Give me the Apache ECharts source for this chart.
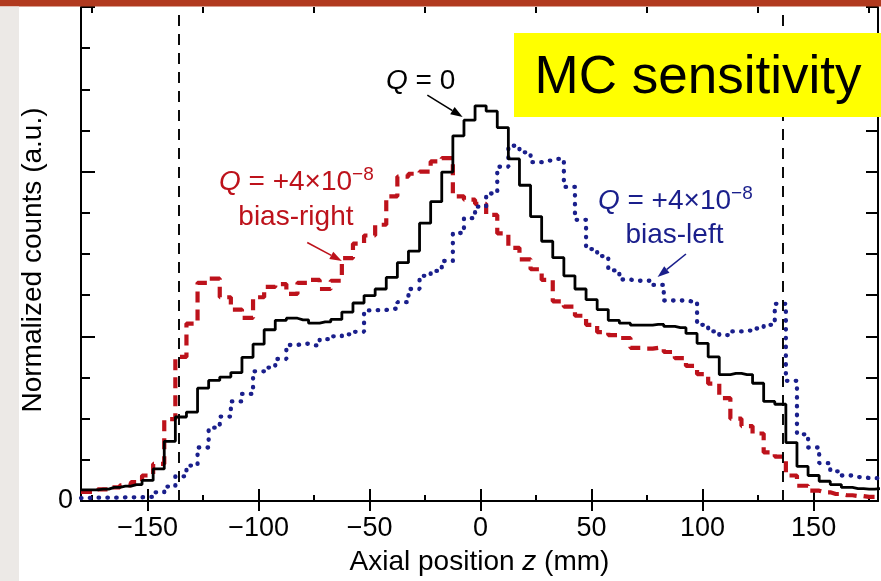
<!DOCTYPE html>
<html>
<head>
<meta charset="utf-8">
<script src="https://cdn.jsdelivr.net/npm/echarts@6/dist/echarts.min.js"></script>
<style>
  html, body { margin: 0; padding: 0; background: #ffffff; }
  #chart { width: 881px; height: 581px; }
</style>
</head>
<body>
<div id="chart"></div>
<script>
// Axial distribution of detected events, 5 mm bins (bin centres in mm)
const binCentres = [
  -180, -175, -170, -165, -160, -155, -150, -145, -140, -135,
  -130, -125, -120, -115, -110, -105, -100,  -95,  -90,  -85,
   -80,  -75,  -70,  -65,  -60,  -55,  -50,  -45,  -40,  -35,
   -30,  -25,  -20,  -15,  -10,   -5,    0,    5,   10,   15,
    20,   25,   30,   35,   40,   45,   50,   55,   60,   65,
    70,   75,   80,   85,   90,   95,  100,  105,  110,  115,
   120,  125,  130,  135,  140,  145,  150,  155,  160,  165,
   170,  175,  180
];

// Q = 0
const countsQ0 = [
  0.27, 0.27, 0.29, 0.33, 0.36, 0.40, 0.50, 0.78, 1.45, 2.04,
  2.16, 2.74, 2.93, 3.01, 3.12, 3.49, 3.81, 4.16, 4.39, 4.44,
  4.40, 4.32, 4.35, 4.41, 4.59, 4.81, 4.99, 5.15, 5.43, 5.79,
  6.07, 6.75, 7.27, 7.99, 8.87, 9.25, 9.60, 9.47, 9.07, 8.31,
  7.67, 6.91, 6.31, 5.91, 5.47, 5.15, 4.89, 4.65, 4.39, 4.32,
  4.27, 4.27, 4.29, 4.24, 4.21, 4.07, 3.83, 3.50, 3.07, 3.10,
  3.07, 2.86, 2.42, 2.35, 1.42, 0.84, 0.62, 0.48, 0.40, 0.33,
  0.30, 0.29, 0.30
];

// Q = +4e-8, bias-right
const countsBiasRight = [
  0.22, 0.22, 0.28, 0.33, 0.38, 0.46, 0.62, 0.90, 1.99, 3.50,
  4.31, 5.30, 5.40, 4.95, 4.65, 4.45, 4.95, 5.20, 5.27, 5.03,
  5.30, 5.37, 5.15, 5.35, 5.90, 6.25, 6.45, 6.71, 7.40, 7.88,
  7.95, 8.00, 8.25, 8.33, 7.40, 7.32, 7.22, 6.95, 6.50, 6.15,
  5.87, 5.63, 5.37, 4.85, 4.72, 4.50, 4.28, 4.10, 4.03, 3.96,
  3.72, 3.70, 3.72, 3.62, 3.47, 3.28, 3.08, 2.85, 2.50, 2.00,
  1.82, 1.64, 1.18, 1.08, 0.62, 0.37, 0.25, 0.21, 0.17, 0.14,
  0.12, 0.10, 0.10
];

// Q = +4e-8, bias-left
const countsBiasLeft = [
  0.07, 0.08, 0.08, 0.08, 0.09, 0.09, 0.10, 0.21, 0.35, 0.60,
  0.86, 1.30, 1.78, 2.05, 2.42, 2.60, 3.15, 3.24, 3.45, 3.79,
  3.82, 3.78, 3.93, 4.00, 4.05, 4.11, 4.63, 4.64, 4.67, 4.83,
  5.15, 5.47, 5.59, 5.83, 6.51, 6.87, 7.15, 7.47, 8.12, 8.63,
  8.47, 8.23, 8.27, 8.31, 7.63, 6.83, 6.12, 5.95, 5.60, 5.38,
  5.35, 5.35, 5.25, 4.87, 4.87, 4.85, 4.28, 4.12, 4.03, 4.12,
  4.14, 4.19, 4.28, 4.79, 2.92, 1.62, 1.30, 0.92, 0.72, 0.62,
  0.58, 0.56, 0.55
];

// Electrode edges (mm), drawn as dashed verticals
const electrodeEdges = [-136, 136];

// Axis ticks
const xMajorTicks = [-150, -100, -50, 0, 50, 100, 150];
const xMinorTicks = [-175, -125, -75, -25, 25, 75, 125, 175];
const yLabelTicks = [0];

const FONT = '"Liberation Sans", Arial, Helvetica, sans-serif';
const RED = '#bd121b';
const BLUE = '#1a1f8c';

const chart = echarts.init(document.getElementById('chart'), null, { renderer: 'canvas' });

const pairs = vals => binCentres.map((z, i) => [z, vals[i]]);
const withMinus = v => String(v).replace('-', '\u2212');

const xRange = { min: -180, max: 179 };
const yRange = { min: 0, max: 12, interval: 4 };

function xAxisDef(position, ticks, len, extra) {
  return Object.assign({
    type: 'value', position: position, ...xRange,
    axisLine: { show: true, onZero: false, lineStyle: { color: '#000', width: 2 } },
    axisTick: { show: true, inside: true, length: len, customValues: ticks,
                lineStyle: { color: '#000', width: 2 } },
    axisLabel: { show: false },
    splitLine: { show: false }
  }, extra || {});
}

const option = {
  animation: false,
  backgroundColor: '#ffffff',
  grid: { left: 81, right: 3, top: 7, bottom: 75, containLabel: false },
  xAxis: [
    xAxisDef('bottom', xMajorTicks, 12, {
      axisLabel: { show: true, customValues: xMajorTicks, formatter: withMinus,
                   margin: 14, color: '#000', fontSize: 27, fontFamily: FONT },
      name: 'Axial position {i|z} (mm)',
      nameLocation: 'middle', nameGap: 47,
      nameTextStyle: { color: '#000', fontSize: 28, fontFamily: FONT,
        rich: { i: { fontStyle: 'italic', fontSize: 28, fontFamily: FONT, color: '#000' } } }
    }),
    xAxisDef('bottom', xMinorTicks, 6, { axisLine: { show: false } }),
    xAxisDef('top', xMajorTicks, 10, { axisLine: { show: false } }),
    xAxisDef('top', xMinorTicks, 6, { axisLine: { show: false } })
  ],
  yAxis: [
    {
      type: 'value', position: 'left', ...yRange,
      axisLine: { show: true, onZero: false, lineStyle: { color: '#000', width: 2 } },
      axisTick: { show: true, inside: true, length: 14, lineStyle: { color: '#000', width: 2 } },
      minorTick: { show: true, splitNumber: 4, length: 9, lineStyle: { color: '#000', width: 2 } },
      axisLabel: { show: true, customValues: yLabelTicks, margin: 8,
                   color: '#000', fontSize: 27, fontFamily: FONT },
      splitLine: { show: false }, minorSplitLine: { show: false },
      name: 'Normalized counts (a.u.)', nameLocation: 'middle', nameGap: 26,
      nameTextStyle: { color: '#000', fontSize: 28, fontFamily: FONT, padding: [0, 12, 0, 0] }
    },
    {
      type: 'value', position: 'right', ...yRange,
      axisLine: { show: true, onZero: false, lineStyle: { color: '#000', width: 2 } },
      axisTick: { show: true, inside: true, length: 12, lineStyle: { color: '#000', width: 2 } },
      minorTick: { show: true, splitNumber: 4, length: 12, lineStyle: { color: '#000', width: 2 } },
      axisLabel: { show: false },
      splitLine: { show: false }, minorSplitLine: { show: false }
    }
  ],
  series: [
    {
      name: 'bias-right', type: 'line', step: 'middle', data: pairs(countsBiasRight),
      symbol: 'none', z: 2,
      lineStyle: { color: RED, width: 4.2, type: [11, 7], cap: 'butt' },
      markLine: {
        silent: true, symbol: ['none', 'none'], label: { show: false },
        lineStyle: { color: '#000', width: 1.9, type: [11, 8] },
        data: electrodeEdges.map(z => ({ xAxis: z }))
      }
    },
    {
      name: 'bias-left', type: 'line', step: 'middle', data: pairs(countsBiasLeft),
      symbol: 'none', z: 3,
      lineStyle: { color: BLUE, width: 4.3, type: [0.5, 8.3], cap: 'round' }
    },
    {
      name: 'Q = 0', type: 'line', step: 'middle', data: pairs(countsQ0),
      symbol: 'none', z: 4,
      lineStyle: { color: '#000', width: 2.8 }
    }
  ]
};

chart.setOption(option);

// Annotations placed in data coordinates (z in mm, counts)
const toPx = (z, v) => chart.convertToPixel({ xAxisIndex: 0, yAxisIndex: 0 }, [z, v]);

function arrow(from, to, color) {
  const a = toPx(from[0], from[1]);
  const b = toPx(to[0], to[1]);
  const dx = b[0] - a[0], dy = b[1] - a[1];
  const len = Math.hypot(dx, dy);
  const ux = dx / len, uy = dy / len;
  const headLen = 12, headHalf = 4.2;
  const base = [b[0] - ux * headLen, b[1] - uy * headLen];
  return [
    { type: 'line', z: 50,
      shape: { x1: a[0], y1: a[1], x2: base[0], y2: base[1] },
      style: { stroke: color, lineWidth: 1.6 } },
    { type: 'polygon', z: 50,
      shape: { points: [b, [base[0] - uy * headHalf, base[1] + ux * headHalf],
                           [base[0] + uy * headHalf, base[1] - ux * headHalf]] },
      style: { fill: color } }
  ];
}

function label(pos, text, color, rich) {
  const p = toPx(pos[0], pos[1]);
  return { type: 'text', z: 50, x: p[0], y: p[1],
    style: { text: text, fill: color, fontSize: 28, fontFamily: FONT,
             align: 'center', verticalAlign: 'middle', rich: rich || {} } };
}

const qRich = color => ({
  q: { fontStyle: 'italic', fontSize: 28, fontFamily: FONT, fill: color, lineHeight: 34 },
  n: { fontSize: 28, fontFamily: FONT, fill: color, lineHeight: 34 },
  s: { fontSize: 19, fontFamily: FONT, fill: color, verticalAlign: 'top', lineHeight: 19 }
});

const graphics = [
  // header strip and side margin
  { type: 'rect', z: 100, shape: { x: 0, y: 0, width: 881, height: 6.5 }, style: { fill: '#b13a1f' } },
  { type: 'rect', z: 100, shape: { x: 0, y: 6.5, width: 19, height: 575 }, style: { fill: '#ece9e6' } },
  // title badge
  { type: 'rect', z: 90, shape: { x: 514, y: 33, width: 367, height: 84 }, style: { fill: '#ffff00' } },
  { type: 'text', z: 91, x: 698, y: 78,
    style: { text: 'MC sensitivity', fill: '#000', fontSize: 53, fontFamily: FONT,
             align: 'center', verticalAlign: 'middle' } },
  label([-27, 10.2], '{q|Q}{n| = 0}', '#000', qRich('#000')),
  label([-83, 7.74], '{q|Q}{n| = +4×10}{s|\u22128}', RED, qRich(RED)),
  label([-83.2, 6.9], 'bias-right', RED),
  label([87.7, 7.29], '{q|Q}{n| = +4×10}{s|\u22128}', BLUE, qRich(BLUE)),
  label([87.3, 6.45], 'bias-left', BLUE),
  ...arrow([-24, 9.86], [-8.1, 9.33], '#000'),
  ...arrow([-78.1, 6.28], [-62.5, 5.83], RED),
  ...arrow([92.5, 6.0], [79.7, 5.44], BLUE)
];

chart.setOption({ graphic: { elements: graphics } });
</script>
</body>
</html>
